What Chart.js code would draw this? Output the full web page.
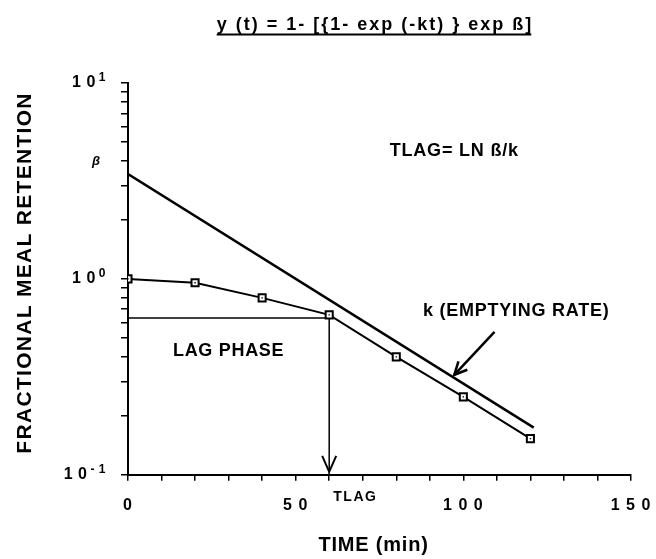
<!DOCTYPE html>
<html>
<head>
<meta charset="utf-8">
<script src="https://cdn.jsdelivr.net/npm/chart.js@4.4.0/dist/chart.umd.min.js"></script>
<style>
  html, body { margin: 0; padding: 0; background: #fff; }
  #wrap { width: 656px; height: 559px; }
</style>
</head>
<body>
<div id="wrap"><canvas id="retentionChart"></canvas></div>
<script>
// measured retention (squares)
const timePoints = [0, 20, 40, 60, 80, 100, 120];
const retention = [1.0, 0.955, 0.80, 0.655, 0.40, 0.25, 0.153];

// extrapolated emptying line
const fitTimes = [0, 121];
const fitValues = [3.43, 0.174];

// lag phase guides
const lagTime = 60;
const lagLevel = 0.632;

// tick labels
const xTickValues = [0, 50, 100, 150];
const xTickLabels = ['0', '5 0', '1 0 0', '1 5 0'];
const yTickValues = [0.1, 1, 10];
const yTickBase = ['1 0', '1 0', '1 0'];
const yTickExp = ['- 1', '0', '1'];
const betaValue = 4;

const titleText = 'y (t) = 1- [{1- exp (-kt) } exp \u00DF]';
const xTitle = 'TIME (min)';
const yTitle = 'FRACTIONAL MEAL RETENTION';
const FONT = "'Liberation Sans', Arial, Helvetica, sans-serif";

// log ticks 0.1..10 with a mark at each integer multiple
const yMarks = [];
[0.1, 1].forEach(dec => {
    for (let m = 1; m <= 9; m++) yMarks.push(+(m * dec).toFixed(2));
});
yMarks.push(10);

function text(ctx, str, x, y, font, spacing, align, baseline) {
    ctx.font = font;
    ctx.letterSpacing = spacing + 'px';
    ctx.textAlign = align || 'center';
    ctx.textBaseline = baseline || 'middle';
    ctx.fillText(str, x, y);
    return ctx.measureText(str).width;
}

const spacing = {
    id: 'spacing',
    beforeDraw(chart) {
        chart.ctx.letterSpacing = '1px';
    }
};

const annotations = {
    id: 'annotations',
    afterDraw(chart) {
        const ctx = chart.ctx;
        const x = chart.scales.x;
        const y = chart.scales.y;
        const area = chart.chartArea;
        ctx.save();
        ctx.fillStyle = '#000';
        ctx.strokeStyle = '#000';

        // underlined title
        const cx = 375;
        const tw = text(ctx, titleText, cx, 30, 'bold 18px ' + FONT, 2, 'center', 'alphabetic');
        ctx.lineWidth = 2;
        ctx.beginPath();
        ctx.moveTo(cx - tw / 2, 34.5);
        ctx.lineTo(cx + tw / 2 - 2, 34.5);
        ctx.stroke();

        // axis titles
        text(ctx, xTitle, (area.left + area.right) / 2 - 6, 545, 'bold 20px ' + FONT, 0.8);
        ctx.save();
        ctx.translate(25, (area.top + area.bottom) / 2 - 6);
        ctx.rotate(-Math.PI / 2);
        text(ctx, yTitle, 0, 0, 'bold 21px ' + FONT, 1.3);
        ctx.restore();

        // y tick labels 10^n
        const expRight = area.left - 22;
        yTickValues.forEach((v, i) => {
            const py = y.getPixelForValue(v);
            const ew = text(ctx, yTickExp[i], expRight, py - 2, 'bold 12px ' + FONT, 0.5, 'right', 'alphabetic');
            text(ctx, yTickBase[i], expRight - ew - 3, py, 'bold 16px ' + FONT, 0.5, 'right', 'middle');
        });
        text(ctx, '\u03B2', area.left - 28, y.getPixelForValue(betaValue), 'italic bold 13px ' + FONT, 0, 'right', 'middle');

        // notes
        text(ctx, 'TLAG= LN \u00DF/k', x.getPixelForValue(97.3), y.getPixelForValue(4.5), 'bold 18px ' + FONT, 0.8);
        text(ctx, 'LAG PHASE', x.getPixelForValue(30), y.getPixelForValue(0.43), 'bold 18px ' + FONT, 0.7);
        text(ctx, 'k (EMPTYING RATE)', x.getPixelForValue(115.8), y.getPixelForValue(0.687), 'bold 18px ' + FONT, 0.75);
        text(ctx, 'TLAG', x.getPixelForValue(67.8), area.bottom + 22, 'bold 14px ' + FONT, 1.5);

        // arrow to the emptying line
        const ax0 = x.getPixelForValue(109.3), ay0 = y.getPixelForValue(0.537);
        const ax1 = x.getPixelForValue(97.3), ay1 = y.getPixelForValue(0.324);
        ctx.lineWidth = 2.5;
        ctx.beginPath();
        ctx.moveTo(ax0, ay0);
        ctx.lineTo(ax1, ay1);
        ctx.stroke();
        const ang = Math.atan2(ay1 - ay0, ax1 - ax0);
        ctx.beginPath();
        ctx.moveTo(ax1 - 14 * Math.cos(ang - 0.45), ay1 - 14 * Math.sin(ang - 0.45));
        ctx.lineTo(ax1, ay1);
        ctx.lineTo(ax1 - 14 * Math.cos(ang + 0.45), ay1 - 14 * Math.sin(ang + 0.45));
        ctx.stroke();

        // arrow head at TLAG on the time axis
        const lx = x.getPixelForValue(lagTime);
        const ly = area.bottom - 3;
        ctx.lineWidth = 2;
        ctx.beginPath();
        ctx.moveTo(lx - 7, ly - 16);
        ctx.lineTo(lx, ly);
        ctx.lineTo(lx + 7, ly - 16);
        ctx.stroke();
        ctx.restore();
    }
};

const ctx = document.getElementById('retentionChart').getContext('2d');
new Chart(ctx, {
    type: 'scatter',
    data: {
        datasets: [
            {
                label: 'retention',
                data: timePoints.map((t, i) => ({ x: t, y: retention[i] })),
                showLine: true,
                borderColor: '#000',
                borderWidth: 2,
                pointStyle: 'rect',
                pointRadius: 5,
                pointBorderWidth: 2,
                pointBackgroundColor: '#fff',
                pointBorderColor: '#000'
            },
            {
                label: 'centre dots',
                data: timePoints.map((t, i) => ({ x: t, y: retention[i] })),
                showLine: false,
                order: -1,
                pointStyle: 'rect',
                pointRadius: 1,
                pointBorderWidth: 0,
                pointBackgroundColor: '#000'
            },
            {
                label: 'fit',
                data: fitTimes.map((t, i) => ({ x: t, y: fitValues[i] })),
                showLine: true,
                borderColor: '#000',
                borderWidth: 2.5,
                pointRadius: 0
            },
            {
                label: 'lag level',
                data: [{ x: 0, y: lagLevel }, { x: lagTime, y: lagLevel }],
                showLine: true,
                borderColor: '#000',
                borderWidth: 1.5,
                pointRadius: 0
            },
            {
                label: 'lag time',
                data: [{ x: lagTime, y: lagLevel }, { x: lagTime, y: 0.1 }],
                showLine: true,
                borderColor: '#000',
                borderWidth: 1.5,
                pointRadius: 0
            }
        ]
    },
    options: {
        responsive: true,
        maintainAspectRatio: false,
        animation: false,
        layout: { padding: { left: 121, right: 25, top: 83, bottom: 29 } },
        plugins: {
            legend: { display: false },
            tooltip: { enabled: false },
            title: { display: false }
        },
        scales: {
            x: {
                type: 'linear',
                min: 0,
                max: 150,
                afterFit: (scale) => {
                    scale.paddingLeft = 0;
                    scale.paddingRight = 0;
                },
                border: { color: '#000', width: 2 },
                grid: { drawOnChartArea: false, drawTicks: true, tickLength: 6, color: '#000', lineWidth: 1.5 },
                ticks: {
                    stepSize: 10,
                    autoSkip: false,
                    maxRotation: 0,
                    padding: 15,
                    color: '#000',
                    font: { family: FONT, size: 16, weight: 'bold' },
                    callback: (value) => {
                        const i = xTickValues.indexOf(value);
                        return i >= 0 ? xTickLabels[i] : '';
                    }
                }
            },
            y: {
                type: 'logarithmic',
                min: 0.1,
                max: 10,
                afterBuildTicks: (scale) => {
                    scale.ticks = yMarks.map(v => ({ value: v, major: false }));
                },
                border: { color: '#000', width: 2 },
                grid: { drawOnChartArea: false, drawTicks: true, tickLength: 7, color: '#000', lineWidth: 1.5 },
                ticks: { display: false }
            }
        }
    },
    plugins: [spacing, annotations]
});
</script>
</body>
</html>
